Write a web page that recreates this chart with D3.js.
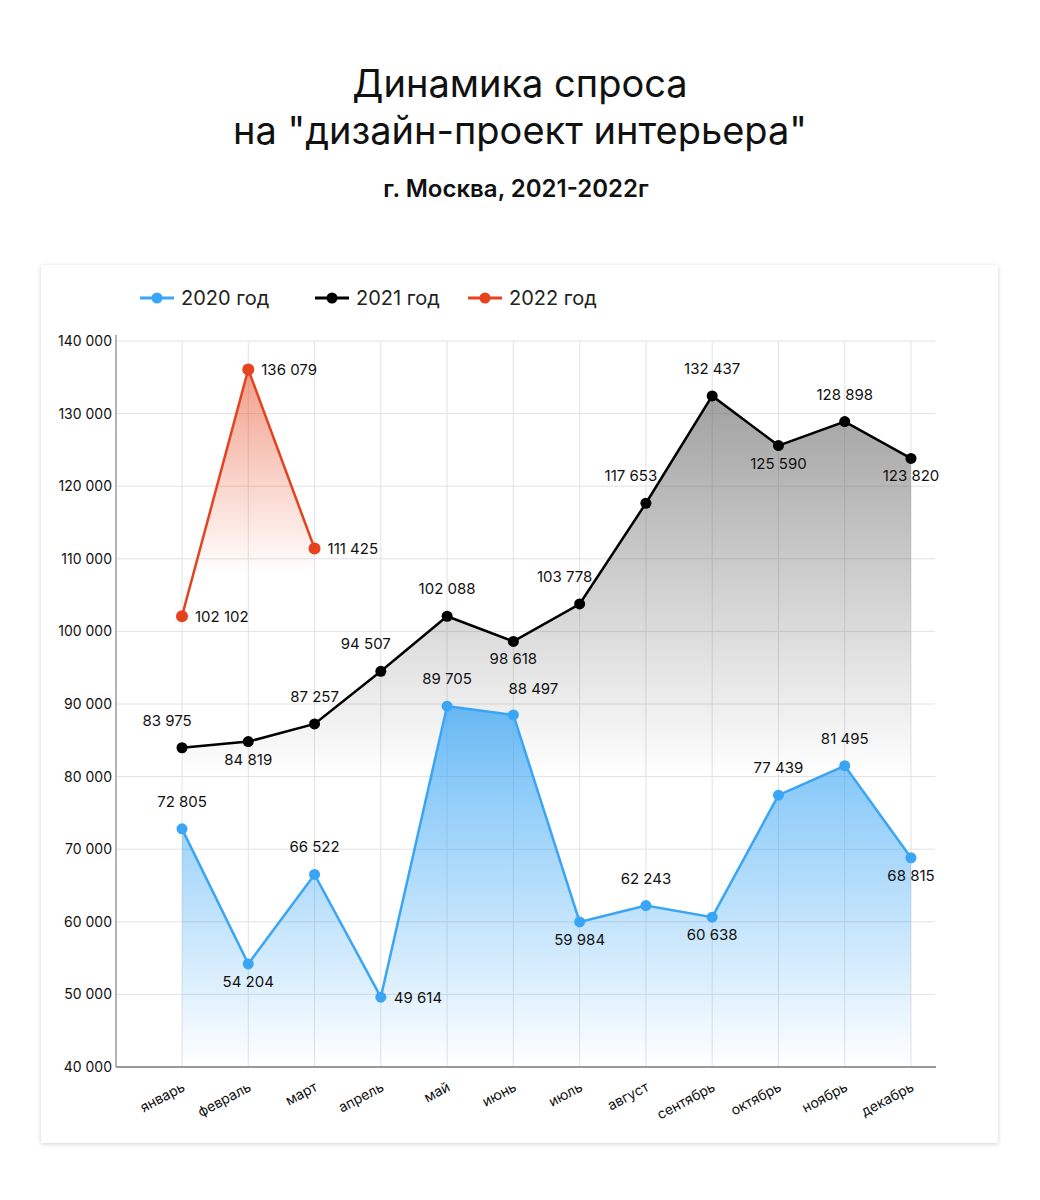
<!DOCTYPE html>
<html><head><meta charset="utf-8">
<script src="https://cdn.jsdelivr.net/npm/d3@7"></script>
<style>body{margin:0;background:#fff;font-family:Inter,"Noto Sans",sans-serif;}</style>
</head><body>
<svg id="chart" width="1040" height="1200"></svg>
<script>
// data
const months = ['январь','февраль','март','апрель','май','июнь','июль','август','сентябрь','октябрь','ноябрь','декабрь'];
const values2020 = [72805,54204,66522,49614,89705,88497,59984,62243,60638,77439,81495,68815];
const values2021 = [83975,84819,87257,94507,102088,98618,103778,117653,132437,125590,128898,123820];
const values2022 = [102102,136079,111425];
const yTicks = [40000,50000,60000,70000,80000,90000,100000,110000,120000,130000,140000];
// label placement: a=above, b=below, al=above-left, ar=above-right, r=right
const place2020 = ['a','b','a','r','a','ar','b','a','b','a','a','b'];
const place2021 = ['al','b','a','al','a','b','al','al','a','b','a','b'];
const place2022 = ['r','r','r'];

const svg = d3.select('#chart');
const fmt = v => d3.format(',')(v).replace(',', ' ');

svg.append('text').attr('x',520).attr('y',97).attr('text-anchor','middle')
  .style('font-size','38px').attr('fill','#111').text('Динамика спроса');
svg.append('text').attr('x',520).attr('y',144).attr('text-anchor','middle')
  .style('font-size','38px').attr('fill','#111').text('на "дизайн-проект интерьера"');
svg.append('text').attr('x',516).attr('y',197).attr('text-anchor','middle')
  .style('font-size','24px').style('font-weight','600').attr('fill','#111').text('г. Москва, 2021-2022г');

// card
const defs = svg.append('defs');
const sh = defs.append('filter').attr('id','sh').attr('x','-5%').attr('y','-5%').attr('width','110%').attr('height','110%');
sh.append('feDropShadow').attr('dx',0).attr('dy',1).attr('stdDeviation',2).attr('flood-color','#000').attr('flood-opacity',0.18);
svg.append('rect').attr('x',41).attr('y',265).attr('width',957).attr('height',878).attr('fill','#fff').attr('filter','url(#sh)');

const x = d3.scalePoint().domain(months).range([182,911]);
const y = d3.scaleLinear().domain([40000,140000]).range([1067,341]);

// gradients
function grad(id, color, op, y1, y2) {
  const g = defs.append('linearGradient').attr('id',id).attr('gradientUnits','userSpaceOnUse')
    .attr('x1',0).attr('x2',0).attr('y1',y1).attr('y2',y2);
  g.append('stop').attr('offset',0).attr('stop-color',color).attr('stop-opacity',op);
  g.append('stop').attr('offset',1).attr('stop-color',color).attr('stop-opacity',0);
}
grad('g2021','#555',0.55,y(132437),y(80000));
grad('g2020','#3ba6f5',0.75,y(89705),y(40000));
grad('g2022','#e8502a',0.55,y(136079),y(108000));

// grid
const grid = svg.append('g');
grid.selectAll('.h').data(yTicks.slice(1)).enter().append('line')
  .attr('x1',116).attr('x2',935).attr('y1',d=>y(d)).attr('y2',d=>y(d)).attr('stroke','#e2e2e2');
grid.selectAll('.v').data(months).enter().append('line')
  .attr('x1',d=>x(d)).attr('x2',d=>x(d)).attr('y1',y(140000)).attr('y2',y(40000)).attr('stroke','#e2e2e2');

// areas
function series(vals, color, gid, places, r) {
  const pts = vals.map((v,i)=>({m:months[i],v,p:places[i]}));
  const area = d3.area().x(d=>x(d.m)).y0(y(40000)).y1(d=>y(d.v));
  const line = d3.line().x(d=>x(d.m)).y(d=>y(d.v));
  const g = svg.append('g');
  g.append('path').datum(pts).attr('d',area).attr('fill',`url(#${gid})`);
  g.append('path').datum(pts).attr('d',line).attr('fill','none').attr('stroke',color).attr('stroke-width',2.5);
  g.selectAll('circle').data(pts).enter().append('circle')
    .attr('cx',d=>x(d.m)).attr('cy',d=>y(d.v)).attr('r',r).attr('fill',color);
  const off = {a:[0,-22,'middle'],b:[0,23,'middle'],al:[-15,-22,'middle'],ar:[20,-21,'middle'],r:[13,6,'start']};
  g.selectAll('text').data(pts).enter().append('text')
    .attr('x',d=>x(d.m)+off[d.p][0]).attr('y',d=>y(d.v)+off[d.p][1])
    .attr('text-anchor',d=>off[d.p][2]).style('font-size','15px').attr('fill','#111')
    .text(d=>fmt(d.v));
}
series(values2021,'#000','g2021',place2021,5.5);
series(values2020,'#3aa5f5','g2020',place2020,5.5);
series(values2022,'#e5421e','g2022',place2022,6);

// axes
svg.append('line').attr('x1',116).attr('x2',116).attr('y1',335).attr('y2',1067).attr('stroke','#999').attr('stroke-width',1.5);
svg.append('line').attr('x1',116).attr('x2',936).attr('y1',1067).attr('y2',1067).attr('stroke','#999').attr('stroke-width',2);
svg.selectAll('.yt').data(yTicks).enter().append('text')
  .attr('x',112).attr('y',d=>y(d)+5).attr('text-anchor','end').style('font-size','14px').attr('fill','#111').text(fmt);
svg.selectAll('.xt').data(months).enter().append('text')
  .attr('transform',d=>`translate(${x(d)+4},${1090}) rotate(-28)`)
  .attr('text-anchor','end').style('font-size','14px').attr('fill','#111').text(d=>d);

// legend
const legend = [['2020 год','#3aa5f5',140],['2021 год','#000',315],['2022 год','#e5421e',468]];
const lg = svg.selectAll('.lg').data(legend).enter().append('g');
lg.append('line').attr('x1',d=>d[2]).attr('x2',d=>d[2]+34).attr('y1',298).attr('y2',298).attr('stroke',d=>d[1]).attr('stroke-width',3);
lg.append('circle').attr('cx',d=>d[2]+17).attr('cy',298).attr('r',5.5).attr('fill',d=>d[1]);
lg.append('text').attr('x',d=>d[2]+41).attr('y',305).style('font-size','20px').attr('fill','#222').text(d=>d[0]);
</script>
</body></html>
